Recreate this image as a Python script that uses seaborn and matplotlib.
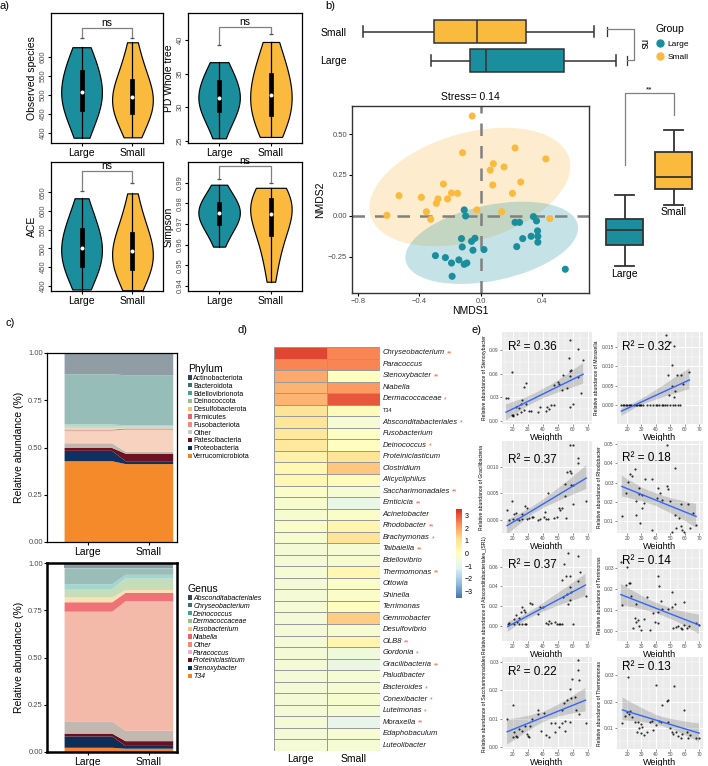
import numpy as np
import pandas as pd
import matplotlib
matplotlib.use("Agg")
import matplotlib.pyplot as plt
import seaborn as sns
from matplotlib.patches import Ellipse, Patch
from matplotlib.lines import Line2D
from matplotlib.colors import LinearSegmentedColormap

plt.rcParams['font.family'] = ['Liberation Sans', 'DejaVu Sans']

TEAL = "#1A8E9C"
YELLOW = "#F9BA3E"
GROUPS = ["Large", "Small"]
PAL = {"Large": TEAL, "Small": YELLOW}

# ---------------- panel a : alpha diversity samples ----------------
obs_large = [388, 400, 414, 428, 440, 452, 458, 466, 474, 482, 490, 496, 500, 504,
             510, 516, 522, 530, 540, 552, 560, 566, 574, 584, 596, 608, 618, 626]
obs_small = [389, 400, 412, 424, 436, 444, 450, 456, 462, 468, 474, 480, 486, 492,
             497, 502, 508, 514, 520, 528, 536, 544, 556, 570, 586, 602, 620, 639]
pd_large = [25.4, 26.5, 27.5, 28.3, 29.0, 29.5, 29.9, 30.3, 30.6, 30.9, 31.2, 31.5,
            31.8, 32.2, 32.7, 33.3, 33.9, 34.3, 34.8, 35.4, 36.0, 36.7]
pd_small = [25.6, 26.3, 27.0, 27.7, 28.3, 28.8, 29.4, 30.0, 30.6, 31.2, 31.7, 32.1,
            32.6, 33.2, 33.8, 34.4, 35.0, 35.8, 36.8, 37.8, 38.8, 39.7]
ace_large = [390, 404, 418, 430, 442, 452, 458, 466, 474, 482, 490, 497, 503, 512,
             520, 528, 536, 546, 558, 566, 580, 596, 614, 634]
ace_small = [388, 400, 414, 426, 436, 444, 450, 458, 466, 474, 482, 490, 496, 500,
             508, 516, 526, 536, 546, 560, 578, 598, 622, 647]
simp_large = [0.959, 0.962, 0.965, 0.967, 0.969, 0.970, 0.971, 0.972, 0.973, 0.974,
              0.975, 0.976, 0.977, 0.977, 0.978, 0.979, 0.980, 0.981, 0.983, 0.985,
              0.987, 0.989]
simp_small = [0.942, 0.948, 0.953, 0.957, 0.961, 0.964, 0.966, 0.968, 0.970, 0.972,
              0.974, 0.975, 0.977, 0.978, 0.979, 0.980, 0.981, 0.982, 0.983, 0.984,
              0.985, 0.986, 0.9875]

# ---------------- panel b : NMDS ----------------
small_x = [-0.055, -0.118, 0.225, 0.426, 0.083, 0.063, 0.153, -0.243, 0.079, 0.262,
           -0.533, -0.387, -0.278, -0.289, -0.216, -0.190, -0.151, 0.208, -0.354,
           -0.326, -0.612, -0.024, 0.138, 0.452]
small_y = [0.61, 0.386, 0.415, 0.348, 0.319, 0.280, 0.299, 0.195, 0.189, 0.207,
           0.124, 0.114, 0.104, 0.077, 0.104, 0.140, 0.138, 0.138, 0.026, -0.020,
           0.004, 0.037, 0.026, -0.016]
large_x = [-0.107, -0.098, 0.225, 0.254, 0.345, 0.365, 0.372, 0.374, 0.374, 0.330,
           0.275, 0.236, -0.125, -0.120, -0.059, -0.037, -0.050, 0.022, -0.295,
           -0.230, -0.190, -0.142, -0.107, -0.090, -0.186, 0.553]
large_y = [0.037, 0.0, -0.039, -0.039, -0.004, -0.030, -0.091, -0.124, -0.160, -0.124,
           -0.138, -0.187, -0.138, -0.189, -0.155, -0.136, -0.209, -0.205, -0.242,
           -0.254, -0.287, -0.268, -0.295, -0.287, -0.368, -0.325]
nmds1_small = [-0.77, -0.30, -0.02, 0.30, 0.75]
nmds1_large = [-0.32, -0.066, 0.04, 0.55, 0.89]
nmds2_large = [-0.305, -0.177, -0.085, -0.018, 0.122]
nmds2_small = [0.067, 0.159, 0.232, 0.384, 0.518]

# ---------------- panel c : composition ----------------
phylum_names = ["Actinobacteriota", "Bacteroidota", "Bdellovibrionota", "Deinococcota",
                "Desulfobacterota", "Firmicutes", "Fusobacteriota", "Other",
                "Patescibacteria", "Proteobacteria", "Verrucomicrobiota"]
phylum_large = [0.110, 0.265, 0.008, 0.015, 0.004, 0.006, 0.067, 0.025, 0.015, 0.055, 0.430]
phylum_small = [0.115, 0.265, 0.006, 0.010, 0.001, 0.006, 0.117, 0.010, 0.040, 0.015, 0.415]
phylum_key_colors = ["#2F4858", "#3D7068", "#3FA39A", "#9BBF8A", "#F4C27A", "#E8646A",
                     "#F08A7A", "#C9C9C9", "#6B0F1A", "#0D2C54", "#F5821F"]
phylum_fill_colors = ["#909DA5", "#97BDB9", "#A5D4CF", "#C8DDBE", "#F8DDB0", "#EE7B7B",
                      "#F7D3BF", "#BFB8AE", "#6E1020", "#0F3160", "#F58A2A"]

genus_names = ["Absconditabacteriales", "Chryseobacterium", "Deinococcus", "Dermacoccaceae",
               "Fusobacterium", "Niabella", "Other", "Paracoccus", "Proteiniclasticum",
               "Stenoxybacter", "T34"]
genus_large = [0.025, 0.085, 0.025, 0.045, 0.025, 0.050, 0.580, 0.065, 0.015, 0.060, 0.025]
genus_small = [0.025, 0.035, 0.020, 0.060, 0.015, 0.045, 0.685, 0.055, 0.025, 0.015, 0.020]
genus_key_colors = ["#2F4858", "#3D7068", "#3FA39A", "#9BBF8A", "#F4C27A", "#E8646A",
                    "#F08A7A", "#E8B4D0", "#6B0F1A", "#0D2C54", "#F5821F"]
genus_fill_colors = ["#8E9BA4", "#9BBDB8", "#A3D6CF", "#C5DDB8", "#F9E1B3", "#EE7276",
                     "#F3B9A9", "#C2B8AF", "#6B1020", "#0F2E57", "#F5852B"]

# ---------------- panel d : heatmap ----------------
genera = ["Chryseobacterium", "Paracoccus", "Stenoxybacter", "Niabella", "Dermacoccaceae",
          "T34", "Absconditabacteriales", "Fusobacterium", "Deinococcus", "Proteiniclasticum",
          "Clostridium", "Alicycliphilus", "Saccharimonadales", "Emticicia", "Acinetobacter",
          "Rhodobacter", "Brachymonas", "Taibaiella", "Bdellovibrio", "Thermomonas",
          "Ottowia", "Shinella", "Terrimonas", "Gemmobacter", "Desulfovibrio", "OLB8",
          "Gordonia", "Gracilibacteria", "Paludibacter", "Bacteroides", "Conexibacter",
          "Luteimonas", "Moraxella", "Edaphobaculum", "Luteolibacter"]
heat_large = [3.2, 2.4, 1.9, 1.8, 1.8, 1.0, 0.95, 0.9, 0.8, 0.5,
              0.3, 0.3, -0.2, -0.3, -0.3, -0.2, -0.3, -0.45, -0.45, -0.4,
              -0.45, -0.45, -0.4, -0.45, -0.45, -0.45, -0.45, -0.45, -0.45, -0.45,
              -0.45, -0.45, -0.45, -0.45, -0.45]
heat_small = [2.4, 2.4, 0.05, 2.1, 3.0, 0.1, -0.4, -0.1, 0.0, 1.0,
              1.5, 0.1, -0.4, -0.8, -0.2, 0.4, 1.0, -0.4, -0.3, 0.3,
              -0.2, -0.2, 0.05, 1.4, -0.3, 0.4, -0.6, -0.75, -0.4, -0.4,
              -0.35, -0.4, -0.85, -0.4, -0.4]
heat_stars = ["**", "", "**", "", "*", "", "*", "", "*", "",
              "", "", "**", "**", "", "**", "*", "**", "", "**",
              "", "", "", "", "", "**", "*", "**", "", "*",
              "*", "*", "**", "", ""]

# ---------------- panel e : regressions ----------------
steno_w = [58.3, 63.6, 19.6, 27.4, 28.9, 47.2, 50.2, 50.9, 53.0, 53.6, 57.9, 58.3, 58.7,
           56.2, 57.2, 66.8, 63.6, 65.3, 57.9, 60.4, 15.7, 17.2, 26.4, 25.7, 28.9, 20.6,
           19.6, 22.8, 20.0, 24.3, 22.6, 30.6, 32.3, 37.0, 38.1, 42.3, 43.0, 44.5, 45.5,
           47.7, 25.3, 27.4]
steno_y = [0.103, 0.091, 0.062, 0.043, 0.048, 0.045, 0.050, 0.047, 0.039, 0.058, 0.057,
           0.064, 0.065, 0.042, 0.080, 0.078, 0.056, 0.036, 0.017, 0.022, 0.029, 0.029,
           0.027, 0.022, 0.022, 0.007, 0.008, 0.009, 0.006, 0.016, 0.017, 0.013, 0.012,
           0.011, 0.017, 0.012, 0.018, 0.015, 0.020, 0.020, 0.011, 0.014]
moraxella_w = [46.9, 50.0, 52.8, 51.1, 54.9, 57.4, 48.6, 51.5, 53.2, 52.8, 63.3, 59.1, 49.0,
               16, 17, 18, 19, 20, 21, 22, 23, 25, 26, 27, 28, 29, 30, 31, 34, 36, 38, 40,
               41, 42, 44, 45, 46, 48, 50, 52, 53, 55, 57]
moraxella_y = [0.0181, 0.0162, 0.0152, 0.0103, 0.0078, 0.0078, 0.0078, 0.0050, 0.0037,
               0.0022, 0.0086, 0.0054, 0.0026,
               0, 0, 0, 0, 0, 0, 0, 0, 0, 0, 0, 0, 0, 0, 0, 0, 0, 0, 0, 0, 0, 0, 0, 0, 0,
               0, 0, 0, 0, 0]
gracili_w = [58.3, 59.8, 63.6, 63.6, 58.3, 56.2, 58.7, 55.1, 58.9, 60.4, 54.7, 50.9, 43.8,
             41.7, 40.9, 42.3, 43.4, 47.7, 49.4, 51.5, 52.6, 55.7, 60.4, 68.9, 16.4, 19.6,
             21.1, 22.1, 26.4, 28.5, 29.6, 23.2, 24.3, 26.0, 29.6, 30.6, 32.8, 33.8, 37.0,
             38.1, 20.0, 17.9]
gracili_y = [0.0141, 0.0142, 0.0117, 0.0107, 0.0093, 0.0091, 0.0088, 0.0067, 0.0066,
             0.0065, 0.0045, 0.0023, 0.0051, 0.0015, 0.0006, 0.0002, 0.0001, 0.0003,
             0.0006, 0.0018, 0.0023, 0.0003, 0.0029, 0.0036, 0.0018, 0.0036, 0.0010,
             0.0013, 0.0011, 0.0026, 0.0023, 0.0002, 0.0, 0.0001, 0.0002, 0.0003, 0.0005,
             0.0005, 0.0, 0.0001, 0.0001, 0.0]
rhodo_w = [47.9, 53.2, 20.6, 21.7, 23.4, 25.5, 28.0, 32.6, 37.4, 41.6, 43.1, 47.9, 48.6,
           40.6, 50.0, 57.4, 62.6, 44.4, 28.0, 26.3, 30.5, 30.1, 31.8, 19.2, 16.4, 29.0,
           25.9, 37.4, 51.5, 54.2, 57.4, 58.4, 59.5, 63.7, 65.8, 67.9, 53.2, 56.3]
rhodo_y = [0.0495, 0.0377, 0.0302, 0.0346, 0.0337, 0.0372, 0.0275, 0.0319, 0.0319, 0.0272,
           0.0249, 0.0284, 0.0267, 0.0223, 0.0205, 0.0188, 0.0188, 0.0211, 0.0240, 0.0205,
           0.0235, 0.0170, 0.0196, 0.0249, 0.0126, 0.0091, 0.0135, 0.0056, 0.0047, 0.0065,
           0.0074, 0.0056, 0.0047, 0.0065, 0.0144, 0.0082, 0.0135, 0.0118]
abscond_w = [56.8, 54.1, 55.4, 57.9, 63.2, 64.6, 63.2, 57.9, 58.9, 55.8, 57.9, 53.7, 56.8,
             68.4, 52.6, 26.3, 25.3, 27.4, 28.4, 31.6, 32.6, 37.9, 40.0, 36.8, 22.1, 21.1,
             23.2, 24.2, 26.3, 28.0, 29.1, 16.8, 17.9, 42.1, 43.2, 44.2, 48.4, 49.5, 50.5,
             51.6, 52.6, 60.0, 45.3, 21.1, 24.2]
abscond_y = [0.074, 0.063, 0.051, 0.050, 0.071, 0.055, 0.045, 0.039, 0.034, 0.032, 0.026,
             0.029, 0.022, 0.030, 0.046, 0.019, 0.014, 0.016, 0.014, 0.023, 0.022, 0.019,
             0.019, 0.012, 0.011, 0.002, 0.004, 0.002, 0.002, 0.002, 0.002, 0.002, 0.003,
             0.003, 0.002, 0.005, 0.004, 0.002, 0.002, 0.002, 0.002, 0.002, 0.003, 0.007,
             0.008]
terri_w = [15.7, 20.0, 21.1, 19.4, 22.1, 22.8, 16.8, 26.4, 25.3, 26.4, 27.4, 24.3, 28.5,
           29.6, 31.7, 36.0, 38.1, 39.1, 41.3, 42.3, 43.4, 44.0, 41.3, 41.3, 48.7, 50.9,
           51.3, 53.4, 51.9, 54.0, 55.1, 57.2, 58.3, 59.4, 59.8, 61.5, 63.2, 67.9, 70.0,
           43.4, 33.8]
terri_y = [0.0333, 0.0309, 0.0231, 0.0219, 0.0231, 0.0169, 0.0122, 0.0130, 0.0059, 0.0044,
           0.0052, 0.0013, 0.0020, 0.0005, 0.0056, 0.0005, 0.0083, 0.0044, 0.0263, 0.0216,
           0.0141, 0.0103, 0.0036, 0.0091, 0.0106, 0.0114, 0.0188, 0.0130, 0.0013, 0.0016,
           0.0020, 0.0013, 0.0008, 0.0028, 0.0138, 0.0013, 0.0020, 0.0036, 0.0028, 0.0364,
           0.0161]
sacchari_w = [63.2, 59.6, 57.9, 58.9, 61.1, 55.8, 54.3, 63.2, 64.2, 62.1, 64.2, 68.4, 57.9,
              54.7, 52.6, 50.5, 48.4, 44.2, 42.1, 38.9, 41.1, 36.8, 32.6, 31.6, 28.4, 26.3,
              24.2, 21.1, 22.1, 20.0, 23.2, 29.5, 30.1, 30.9, 17.9, 16.4, 20.4, 45.3, 48.4,
              36.8, 54.7, 52.6]
sacchari_y = [0.0305, 0.0241, 0.0203, 0.0172, 0.0176, 0.0167, 0.0155, 0.0270, 0.0236,
              0.0132, 0.0115, 0.0086, 0.0089, 0.0057, 0.0086, 0.0069, 0.0052, 0.0034,
              0.0043, 0.0057, 0.0121, 0.0115, 0.0098, 0.0075, 0.0075, 0.0057, 0.0063,
              0.0052, 0.0040, 0.0034, 0.0034, 0.0046, 0.0040, 0.0034, 0.0259, 0.0098,
              0.0149, 0.0086, 0.0086, 0.0129, 0.0092, 0.0132]
thermo_w = [19.6, 20.4, 40.2, 52.3, 44.0, 47.7, 48.3, 59.4, 22.1, 21.1, 19.6, 23.2, 25.3,
            27.4, 29.6, 30.6, 28.5, 27.0, 29.6, 31.7, 33.8, 36.0, 37.0, 40.2, 42.3, 43.4,
            48.7, 49.8, 50.9, 51.9, 54.0, 55.1, 57.2, 58.3, 61.5, 62.6, 63.6, 67.9, 70.0,
            16.8, 18.5, 37.7]
thermo_y = [0.0356, 0.0293, 0.0262, 0.0259, 0.0189, 0.0201, 0.0207, 0.0168, 0.0165, 0.0152,
            0.0159, 0.0140, 0.0122, 0.0122, 0.0116, 0.0104, 0.0098, 0.0085, 0.0079, 0.0073,
            0.0085, 0.0122, 0.0128, 0.0110, 0.0128, 0.0124, 0.0122, 0.0098, 0.0085, 0.0076,
            0.0083, 0.0071, 0.0063, 0.0076, 0.0083, 0.0063, 0.0073, 0.0061, 0.0063, 0.0120,
            0.0146, 0.0091]

# =====================================================================
W, H = 708, 766
fig = plt.figure(figsize=(W / 100, H / 100), dpi=100)
fig.patch.set_facecolor("white")


def add_ax(l, t, w, h):
    return fig.add_axes([l / W, 1 - (t + h) / H, w / W, h / H])


def panel_label(x, y, s):
    fig.text(x / W, 1 - y / H, s, fontsize=8, ha="left", va="center")


# ---------------- panel a ----------------
def violin_panel(box, large, small, ylabel, ylim, yticks, ytl, br_l, br_s, br_top):
    ax = add_ax(*box)
    df = pd.DataFrame({"group": ["Large"] * len(large) + ["Small"] * len(small),
                       "value": large + small})
    sns.violinplot(data=df, x="group", y="value", hue="group", order=GROUPS,
                   hue_order=GROUPS, palette=PAL, saturation=1, cut=0,
                   density_norm="width", width=0.8, bw_adjust=1.5, inner="box",
                   inner_kws=dict(box_width=3.4, whis_width=0.9, marker="o",
                                  markersize=2.2),
                   linecolor="black", linewidth=0.85, legend=False, ax=ax)
    ax.set_xlim(-0.6, 1.6)
    ax.set_ylim(*ylim)
    ax.set_yticks(yticks, labels=ytl)
    ax.tick_params(axis="y", labelrotation=90, labelsize=5.5, labelcolor="#4D4D4D",
                   length=2, pad=1)
    for lab in ax.get_yticklabels():
        lab.set_va("center")
    ax.tick_params(axis="x", labelsize=7.5, length=2, pad=1.5)
    ax.set_xlabel("")
    ax.set_ylabel(ylabel, fontsize=7.5, labelpad=2)
    for s in ax.spines.values():
        s.set_linewidth(0.9)
    ax.plot([0, 0, 1, 1], [br_l, br_top, br_top, br_s], color="#808080", lw=0.9,
            clip_on=False)
    ax.plot([0, 1], [br_l, br_s], ls="", marker="_", ms=3.5, mew=0.9, color="#555555")
    ax.text(0.5, br_top, "ns", ha="center", va="bottom", fontsize=7.5)
    return ax


violin_panel((51, 13, 112, 130), obs_large, obs_small, "Observed species", (374, 716),
             [400, 450, 500, 550, 600], ["400", "450", "500", "550", "600"], 650, 650, 676)
violin_panel((188, 13, 114, 130), pd_large, pd_small, "PD Whole tree", (24.7, 44.0),
             [25, 30, 35, 40], ["25", "30", "35", "40"], 39.3, 40.9, 41.9)
violin_panel((51, 162, 112, 129), ace_large, ace_small, "ACE", (386, 731),
             [400, 450, 500, 550, 600, 650], ["400", "450", "500", "550", "600", "650"],
             653, 676, 706)
violin_panel((188, 162, 114, 129), simp_large, simp_small, "Simpson", (0.9375, 1.0),
             [0.94, 0.95, 0.96, 0.97, 0.98, 0.99],
             ["0.94", "0.95", "0.96", "0.97", "0.98", "0.99"], 0.992, 0.990, 0.998)

# ---------------- panel b ----------------
XL = (-0.84, 0.708)
YL = (-0.47, 0.671)

ax_top = add_ax(352, 17, 298, 58)
df_top = pd.DataFrame({"group": ["Small"] * 5 + ["Large"] * 5,
                       "NMDS1": nmds1_small + nmds1_large})
sns.boxplot(data=df_top, x="NMDS1", y="group", hue="group", order=["Small", "Large"],
            palette=PAL, saturation=1, width=0.76, linecolor="#333333", linewidth=1.1,
            whis=10, legend=False, ax=ax_top)
ax_top.set_xlim(XL[0], XL[0] + 298 / 152.5)
ax_top.set_ylim(1.5, -0.5)
for s in ax_top.spines.values():
    s.set_visible(False)
ax_top.set_xticks([])
ax_top.set_xlabel("")
ax_top.set_ylabel("")
ax_top.tick_params(axis="y", length=0, labelsize=7.5, pad=4)
ax_top.plot([0.832, 0.832], [-0.14, 0.14], color="#333333", lw=0.9)
ax_top.plot([0.963, 0.963], [0.86, 1.14], color="#333333", lw=0.9)
ax_top.plot([0.832, 1.009, 1.009, 0.963], [-0.1, -0.1, 0.98, 0.98], color="#808080", lw=0.9)
ax_top.text(1.04, 0.44, "ns", rotation=-90, ha="left", va="center", fontsize=7)

ax_sc = add_ax(352, 106, 237, 187)


def conf_ellipse(ax, x, y, color, scale=2.3):
    x = np.asarray(x)
    y = np.asarray(y)
    cov = np.cov(x, y)
    vals, vecs = np.linalg.eigh(cov)
    order = vals.argsort()[::-1]
    vals, vecs = vals[order], vecs[:, order]
    angle = np.degrees(np.arctan2(vecs[1, 0], vecs[0, 0]))
    w, h = 2 * scale * np.sqrt(vals)
    ax.add_patch(Ellipse((x.mean(), y.mean()), w, h, angle=angle, facecolor=color,
                         alpha=0.25, edgecolor="none", zorder=1))


conf_ellipse(ax_sc, small_x, small_y, YELLOW)
conf_ellipse(ax_sc, large_x, large_y, TEAL)
ax_sc.axhline(0, color="#808080", lw=1.8, ls=(0, (5, 4)), zorder=1.5)
ax_sc.axvline(0, color="#808080", lw=1.8, ls=(0, (5, 4)), zorder=1.5)
sc_df = pd.DataFrame({"NMDS1": large_x + small_x, "NMDS2": large_y + small_y,
                      "Group": ["Large"] * len(large_x) + ["Small"] * len(small_x)})
sns.scatterplot(data=sc_df, x="NMDS1", y="NMDS2", hue="Group", palette=PAL, s=26,
                linewidth=0, legend=False, ax=ax_sc, zorder=3)
ax_sc.set_xlim(*XL)
ax_sc.set_ylim(*YL)
ax_sc.set_xticks([-0.8, -0.4, 0.0, 0.4], labels=["\u22120.8", "\u22120.4", "0.0", "0.4"])
ax_sc.set_yticks([-0.25, 0.0, 0.25, 0.5], labels=["\u22120.25", "0.00", "0.25", "0.50"])
ax_sc.tick_params(labelsize=5.5, labelcolor="#4D4D4D", length=2, pad=1.5)
ax_sc.set_xlabel("NMDS1", fontsize=7.5, labelpad=1)
ax_sc.set_ylabel("NMDS2", fontsize=7.5, labelpad=2)
ax_sc.set_title("Stress= 0.14", fontsize=7.5, pad=4)
for s in ax_sc.spines.values():
    s.set_linewidth(1.0)
    s.set_color("#333333")

ax_rb = add_ax(600, 80, 98, 213)
df_rb = pd.DataFrame({"group": ["Large"] * 5 + ["Small"] * 5,
                      "NMDS2": nmds2_large + nmds2_small})
sns.boxplot(data=df_rb, x="group", y="NMDS2", hue="group", order=GROUPS, palette=PAL,
            saturation=1, width=0.76, linecolor="#333333", linewidth=1.3, whis=10,
            legend=False, ax=ax_rb)
ax_rb.set_xlim(-0.5, 1.5)
ax_rb.set_ylim(YL[0], (215 - 80) / 164)
ax_rb.axis("off")
for i, vals in enumerate([nmds2_large, nmds2_small]):
    ax_rb.annotate(GROUPS[i], xy=(i, min(vals)), xytext=(0, -2), textcoords="offset points",
                   ha="center", va="top", fontsize=7.5)
ax_rb.plot([0, 0, 1, 1], [0.305, 0.744, 0.744, 0.61], color="#808080", lw=0.9,
           clip_on=False)
ax_rb.text(0.5, 0.744, "**", ha="center", va="bottom", fontsize=6)

handles = [Line2D([], [], ls="", marker="o", ms=5, color=c) for c in (TEAL, YELLOW)]
leg = fig.legend(handles, GROUPS, title="Group", loc="upper left",
                 bbox_to_anchor=(656 / W, 1 - 24 / H), frameon=False, fontsize=6,
                 title_fontsize=7.5, handletextpad=0.4, labelspacing=0.7, borderpad=0,
                 handlelength=1.0, borderaxespad=0)
leg._legend_box.align = "left"


# ---------------- panel c ----------------
def alluvial(ax, names, large, small, fill_colors):
    xs = [-0.39, 0.39, 0.61, 1.39]
    lv = np.asarray(large)[::-1]
    sv = np.asarray(small)[::-1]
    cols = list(fill_colors)[::-1]
    cl = np.concatenate([[0], np.cumsum(lv)])
    cs = np.concatenate([[0], np.cumsum(sv)])
    for i in range(len(lv)):
        lo = [cl[i], cl[i], cs[i], cs[i]]
        hi = [cl[i + 1], cl[i + 1], cs[i + 1], cs[i + 1]]
        ax.fill_between(xs, lo, hi, color=cols[i], lw=0)
    ax.set_xlim(-0.67, 1.46)
    ax.set_ylim(0, 1)
    ax.set_xticks([0, 1], labels=GROUPS)
    ax.set_yticks([0, 0.25, 0.5, 0.75, 1.0], labels=["0.00", "0.25", "0.50", "0.75", "1.00"])
    ax.tick_params(axis="y", labelsize=5.5, labelcolor="#4D4D4D", length=2, pad=1)
    ax.tick_params(axis="x", labelsize=7.5, length=2, pad=1.5)
    ax.set_ylabel("Relative abundance (%)", fontsize=7.5, labelpad=3)


ax_ph = add_ax(47, 353, 130, 189)
alluvial(ax_ph, phylum_names, phylum_large, phylum_small, phylum_fill_colors)
for s in ax_ph.spines.values():
    s.set_linewidth(0.9)
ax_ge = add_ax(47, 563, 130, 189)
alluvial(ax_ge, genus_names, genus_large, genus_small, genus_fill_colors)
for s in ax_ge.spines.values():
    s.set_linewidth(1.8)

ph_handles = [Patch(facecolor=c, edgecolor="none") for c in phylum_key_colors]
lg1 = fig.legend(ph_handles, phylum_names, title="Phylum", loc="upper left",
                 bbox_to_anchor=(188 / W, 1 - 364 / H), frameon=False,
                 prop={"size": 5}, title_fontsize=7.5, handlelength=0.6,
                 handleheight=0.6, handletextpad=0.15, labelspacing=0.12, borderpad=0,
                 borderaxespad=0)
lg1._legend_box.align = "left"
ge_handles = [Patch(facecolor=c, edgecolor="none") for c in genus_key_colors]
lg2 = fig.legend(ge_handles, genus_names, title="Genus", loc="upper left",
                 bbox_to_anchor=(188 / W, 1 - 584 / H), frameon=False,
                 prop={"size": 5, "style": "italic"}, title_fontsize=7.5,
                 handlelength=0.6, handleheight=0.6, handletextpad=0.15,
                 labelspacing=0.12, borderpad=0, borderaxespad=0)
lg2._legend_box.align = "left"

# ---------------- panel d ----------------
cmap = LinearSegmentedColormap.from_list(
    "pheat", ["#4575B4", "#91BFDB", "#E0F3F8", "#FFFFBF", "#FEE090", "#FC8D59", "#D73027"],
    N=100)
ax_hm = add_ax(274, 347, 106, 404)
ax_cb = add_ax(456, 509, 6, 89)
hm_df = pd.DataFrame({"Large": heat_large, "Small": heat_small}, index=genera)
sns.heatmap(hm_df, ax=ax_hm, cmap=cmap, vmin=-3.5, vmax=3.5, linewidths=0.7,
            linecolor="#9A9A9A", cbar_ax=ax_cb, xticklabels=True, yticklabels=False)
ax_hm.tick_params(axis="x", length=0, labelsize=7.5, pad=2)
ax_hm.set_ylabel("")
for i, (g, st) in enumerate(zip(genera, heat_stars)):
    if g == "T34":
        t = ax_hm.text(2.05, i + 0.5, g, fontsize=4, va="center", ha="left",
                       color="#1a1a1a", clip_on=False)
    else:
        t = ax_hm.text(2.05, i + 0.5, g, fontsize=5.5, style="italic", va="center",
                       ha="left", color="#1a1a1a", clip_on=False)
    if st:
        ax_hm.annotate(st, xy=(1, 0.35), xycoords=t, xytext=(1.5, 0),
                       textcoords="offset points", va="center", ha="left", fontsize=5,
                       color="#E8603C")
cb = ax_hm.collections[0].colorbar
cb.outline.set_visible(False)
cb.set_ticks([-3, -2, -1, 0, 1, 2, 3])
ax_cb.tick_params(labelsize=5, length=0, pad=2)

# ---------------- panel e ----------------
reg_specs = [
    (steno_w, steno_y, "Relative abundance of Stenoxybacter", (-0.004, 0.113),
     [0.0, 0.03, 0.06, 0.09], ["0.00", "0.03", "0.06", "0.09"], "R\u00b2 = 0.36", 0.84),
    (moraxella_w, moraxella_y, "Relative abundance of Moraxella", (-0.0048, 0.0188),
     [0.0, 0.005, 0.01, 0.015], ["0.000", "0.005", "0.010", "0.015"], "R\u00b2 = 0.32", 0.84),
    (gracili_w, gracili_y, "Relative abundance of Gracilibacteria", (-0.0025, 0.0149),
     [0.0, 0.005, 0.01], ["0.000", "0.005", "0.010"], "R\u00b2 = 0.37", 0.79),
    (rhodo_w, rhodo_y, "Relative abundance of Rhodobacter", (0.004, 0.0516),
     [0.01, 0.02, 0.03, 0.04, 0.05], ["0.01", "0.02", "0.03", "0.04", "0.05"],
     "R\u00b2 = 0.18", 0.82),
    (abscond_w, abscond_y, "Relative abundance of Absconditabacteriales_(SR1)",
     (-0.0157, 0.078), [0.0, 0.02, 0.04, 0.06], ["0.00", "0.02", "0.04", "0.06"],
     "R\u00b2 = 0.37", 0.83),
    (terri_w, terri_y, "Relative abundance of Terrimonas", (-0.005, 0.0394),
     [0.0, 0.01, 0.02, 0.03], ["0.00", "0.01", "0.02", "0.03"], "R\u00b2 = 0.14", 0.87),
    (sacchari_w, sacchari_y, "Relative abundance of Saccharimonadales", (-0.0007, 0.0317),
     [0.0, 0.01, 0.02, 0.03], ["0.00", "0.01", "0.02", "0.03"], "R\u00b2 = 0.22", 0.84),
    (thermo_w, thermo_y, "Relative abundance of Thermomonas", (0.002, 0.037),
     [0.01, 0.02, 0.03], ["0.01", "0.02", "0.03"], "R\u00b2 = 0.13", 0.89),
]
col_l = [502, 617]
col_w = [90, 86]
row_t = [332, 441, 549, 657]
for k, (xw, yv, ylab, ylim, yt, ytl, r2, ty) in enumerate(reg_specs):
    r, c = divmod(k, 2)
    ax = add_ax(col_l[c], row_t[r], col_w[c], 92)
    ax.set_facecolor("#EBEBEB")
    sns.regplot(x=np.asarray(xw), y=np.asarray(yv), ax=ax, scatter=False, color="black",
                line_kws=dict(lw=0), ci=95, seed=3, n_boot=500)
    sns.regplot(x=np.asarray(xw), y=np.asarray(yv), ax=ax, ci=None,
                scatter_kws=dict(s=2.4, color="black", linewidths=0),
                line_kws=dict(color="#3366FF", lw=1.0))
    ax.set_xlim(13, 72.7)
    ax.set_ylim(*ylim)
    ax.set_xticks([20, 30, 40, 50, 60, 70], labels=["20", "30", "40", "50", "60", "70"])
    ax.set_yticks(yt, labels=ytl)
    ax.set_xticks([15, 25, 35, 45, 55, 65], minor=True)
    step = yt[1] - yt[0]
    ax.set_yticks([v + step / 2 for v in [yt[0] - step] + yt
                   if ylim[0] < v + step / 2 < ylim[1]], minor=True)
    ax.grid(True, which="major", color="white", lw=0.7)
    ax.grid(True, which="minor", color="white", lw=0.35)
    ax.set_axisbelow(True)
    for s in ax.spines.values():
        s.set_visible(False)
    ax.tick_params(which="major", labelsize=3.5, labelcolor="#4D4D4D", length=1.5,
                   width=0.4, color="#333333", pad=0.8)
    ax.tick_params(which="minor", length=0)
    ax.set_xlabel("Weighth", fontsize=6.5, labelpad=0.5)
    ax.set_ylabel(ylab, fontsize=3.6, labelpad=1.5)
    ax.text(0.34, ty, r2, transform=ax.transAxes, fontsize=8.5, ha="center", va="center")

panel_label(0, 6, "a)")
panel_label(325, 6, "b)")
panel_label(5, 323, "c)")
panel_label(238, 330, "d)")
panel_label(471, 330, "e)")

fig.savefig("out.png", dpi=100)
